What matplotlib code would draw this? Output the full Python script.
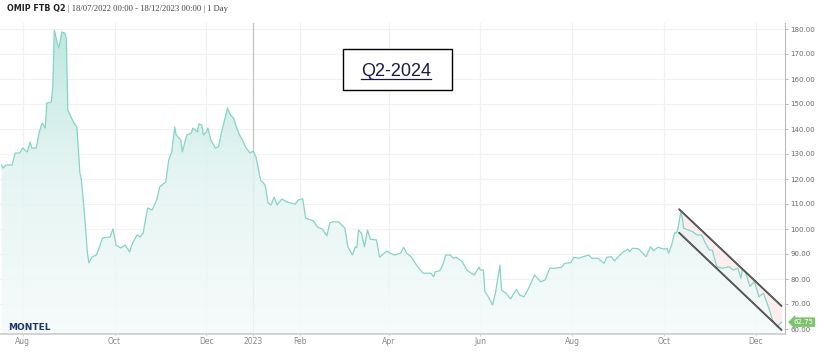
import numpy as np
import pandas as pd
import matplotlib
matplotlib.use('Agg')
import matplotlib.pyplot as plt
import matplotlib.dates as mdates
from matplotlib.colors import LinearSegmentedColormap
from matplotlib.patches import Rectangle
from matplotlib.lines import Line2D

# days since 18/07/2022 and price (EUR/MWh)
days = [0, 1, 3, 7, 9, 12, 14, 17, 19, 20, 23, 25, 27, 29, 30, 33, 34, 35, 37, 38,
        40, 42, 43, 44, 48, 50, 52, 53, 55, 57, 58, 60, 63, 65, 67, 72, 74, 76, 79, 82,
        85, 87, 90, 92, 94, 97, 100, 103, 105, 109, 111, 113, 115, 116, 119, 120, 123, 126, 127, 130,
        131, 133, 134, 136, 137, 139, 142, 144, 146, 150, 152, 154, 156, 158, 160, 162, 165, 167, 169, 172,
        175, 177, 179, 181, 183, 186, 190, 195, 197, 200, 202, 207, 210, 213, 216, 218, 220, 224, 228, 230,
        233, 235, 236, 237, 239, 241, 243, 245, 249, 251, 254, 256, 258, 261, 265, 267, 269, 272, 276, 280,
        285, 287, 288, 291, 293, 295, 298, 300, 302, 306, 309, 312, 314, 317, 318, 320, 321, 323, 325, 326,
        328, 331, 332, 335, 338, 342, 344, 347, 350, 354, 358, 361, 364, 367, 372, 374, 378, 380, 383, 390,
        392, 396, 400, 402, 405, 407, 410, 413, 416, 417, 419, 423, 425, 428, 431, 433, 436, 440, 442, 443,
        445, 447, 448, 449, 451, 452, 453, 456, 459, 462, 465, 467, 470, 472, 475, 479, 483, 486, 489, 491,
        492, 494, 497, 500, 503, 506, 510, 512, 515, 518]
price = [125.6, 124.4, 125.6, 125.6, 130.4, 130.4, 132.4, 130.8, 134.8, 132.4, 132.4, 138.8, 142.4, 140.4, 150.4, 150.8, 156.8, 179.6, 174.4, 172.4,
         178.8, 178.4, 176.4, 147.6, 142.4, 140.8, 122.4, 119.6, 106.4, 90.4, 86.4, 88.8, 89.6, 92.8, 96.4, 96.8, 100.0, 93.6, 92.4, 93.6,
         90.8, 94.4, 97.6, 96.8, 98.4, 108.4, 107.6, 111.6, 116.8, 118.8, 127.6, 130.8, 140.8, 137.6, 135.6, 130.8, 137.6, 138.4, 140.4, 138.8,
         142.0, 141.6, 137.6, 138.8, 140.4, 135.6, 132.4, 132.8, 138.4, 148.4, 145.6, 144.4, 140.8, 137.6, 135.6, 132.8, 130.4, 131.2, 128.8, 119.6,
         117.6, 110.4, 109.6, 112.8, 109.6, 112.0, 110.7, 110.0, 111.6, 112.1, 104.3, 103.3, 100.7, 100.0, 97.2, 102.5, 102.9, 102.8, 100.3, 92.9,
         89.6, 92.9, 92.7, 99.6, 98.3, 92.9, 99.6, 95.9, 95.6, 88.7, 90.3, 91.2, 90.3, 89.6, 90.3, 92.7, 90.3, 88.9, 85.2, 82.3,
         82.3, 80.9, 82.9, 83.3, 85.6, 89.6, 89.6, 88.3, 88.7, 86.9, 83.6, 82.3, 81.6, 84.7, 83.6, 83.6, 74.9, 73.2, 70.9, 69.6,
         74.3, 85.6, 75.6, 74.3, 72.0, 75.9, 73.6, 72.9, 76.3, 81.6, 78.9, 79.6, 84.3, 84.3, 84.7, 86.3, 86.5, 88.7, 88.3, 89.6,
         88.3, 88.3, 86.3, 88.7, 88.9, 87.2, 89.2, 90.9, 91.9, 90.9, 92.3, 92.1, 90.9, 88.9, 92.9, 91.3, 92.7, 91.9, 92.3, 90.3,
         93.6, 98.5, 98.3, 99.6, 106.5, 104.9, 100.3, 99.6, 98.9, 97.6, 97.6, 94.9, 91.6, 91.6, 84.9, 84.3, 84.9, 83.6, 84.3, 80.3,
         83.9, 82.9, 77.0, 79.0, 72.9, 74.3, 67.6, 63.6, 60.9, 62.75]

# hand-drawn down channel
channel_days = [450, 518]
channel_upper = [107.9, 69.2]
channel_lower = [98.5, 59.6]

yticks = [60, 70, 80, 90, 100, 110, 120, 130, 140, 150, 160, 170, 180]
xtick_dates = ['2022-08-01', '2022-10-01', '2022-12-01', '2023-01-01', '2023-02-01',
               '2023-04-01', '2023-06-01', '2023-08-01', '2023-10-01', '2023-12-01']
xtick_labels = ['Aug', 'Oct', 'Dec', '2023', 'Feb', 'Apr', 'Jun', 'Aug', 'Oct', 'Dec']

start = pd.Timestamp('2022-07-18')
dates = start + pd.to_timedelta(days, unit='D')
xd = mdates.date2num(dates)
ch_x = mdates.date2num(start + pd.to_timedelta(channel_days, unit='D'))

W, H = 820, 359
fig = plt.figure(figsize=(W / 100, H / 100), dpi=100)
ax = fig.add_axes([0, 1 - 334 / H, 785 / W, (334 - 23) / H])

ymin, ymax = 58, 182.4
x0 = mdates.date2num(start) - 1.06
x1 = mdates.date2num(start) + 520.3
ax.set_xlim(x0, x1)
ax.set_ylim(ymin, ymax)

# grid
for v in yticks:
    ax.axhline(v, color='#f2f2f2', lw=0.8, zorder=0)
for d, lab in zip(xtick_dates, xtick_labels):
    c = '#c4c4c4' if lab == '2023' else '#f0f0f0'
    ax.axvline(mdates.date2num(pd.Timestamp(d)), color=c, lw=0.9, zorder=0)

# channel fill
ax.fill_between(ch_x, channel_lower, channel_upper, color='#fbe3e3', alpha=0.6, lw=0, zorder=1)

# gradient area under price
cmap = LinearSegmentedColormap.from_list('g', ['#f5fbfb', '#e2f4f1', '#b2e3dc'])
grad = np.linspace(0, 1, 256).reshape(-1, 1)
poly = ax.fill_between(xd, ymin, price, color='none', lw=0)
img = ax.imshow(grad, cmap=cmap, aspect='auto', origin='lower',
                extent=[x0, x1, ymin, ymax], alpha=0.85, zorder=2)
img.set_clip_path(poly.get_paths()[0], transform=ax.transData)
ax.plot(xd, price, color='#86d3c8', lw=0.9, zorder=3)

# channel lines
for ys in (channel_upper, channel_lower):
    ax.plot(ch_x, ys, color='#333333', lw=1.3, zorder=4, solid_capstyle='round')
    ax.plot(ch_x, ys, color='#8a8a8a', lw=0.35, zorder=5)

# axes styling
for s in ('top', 'left'):
    ax.spines[s].set_visible(False)
ax.spines['right'].set_color('#bbbbbb')
ax.spines['bottom'].set_color('#cccccc')
ax.spines['bottom'].set_linewidth(1.2)
ax.yaxis.tick_right()
ax.set_yticks(yticks)
ax.set_yticklabels([f'{v:.2f}' for v in yticks])
ax.set_xticks([mdates.date2num(pd.Timestamp(d)) for d in xtick_dates])
ax.set_xticklabels(xtick_labels)
ax.tick_params(axis='y', length=2, width=0.5, color='#999999', labelsize=5,
               labelcolor='#666666', pad=2)
ax.tick_params(axis='x', length=1.5, width=0.5, color='#cccccc', labelsize=5.5,
               labelcolor='#888888', pad=1)

# last price badge
ax.annotate('62.75', xy=(1.0, price[-1]), xycoords=('axes fraction', 'data'),
            xytext=(6, 0), textcoords='offset points', ha='left', va='center',
            fontsize=5, color='white',
            bbox=dict(boxstyle='larrow,pad=0.25', fc='#7cc46b', ec='none'),
            annotation_clip=False, zorder=6)

# header
t1 = fig.text(0.008, 1 - 9 / H, 'OMIP FTB Q2', fontsize=5.8, fontweight='bold',
              color='#222222', va='center', ha='left')
fig.canvas.draw()
hb = t1.get_window_extent().transformed(fig.transFigure.inverted())
fig.text(hb.x1 + 0.003, 1 - 9 / H, '| 18/07/2022 00:00 - 18/12/2023 00:00 | 1 Day',
         fontsize=6.2, family='Liberation Serif', color='#444444', va='center', ha='left')

# logo
fig.text(8 / W, 1 - 327 / H, 'MONTEL', fontsize=6.5, fontweight='heavy',
         color='#1b3766', va='center', ha='left')

# Q2-2024 box
fig.patches.append(Rectangle((343 / W, 1 - 90 / H), 109 / W, 41 / H,
                             transform=fig.transFigure, fc='white', ec='black', lw=1.0, zorder=10))
t = fig.text(396 / W, 1 - 71 / H, 'Q2-2024', fontsize=13, family='Liberation Sans',
             color='#1a1a4a', ha='center', va='center', zorder=11)
fig.canvas.draw()
bb = t.get_window_extent().transformed(fig.transFigure.inverted())
fig.lines.append(Line2D([bb.x0, bb.x1], [bb.y0 + 0.001, bb.y0 + 0.001], transform=fig.transFigure,
                        color='#1a1a4a', lw=0.9, zorder=12))

fig.savefig('out.png', dpi=100)
